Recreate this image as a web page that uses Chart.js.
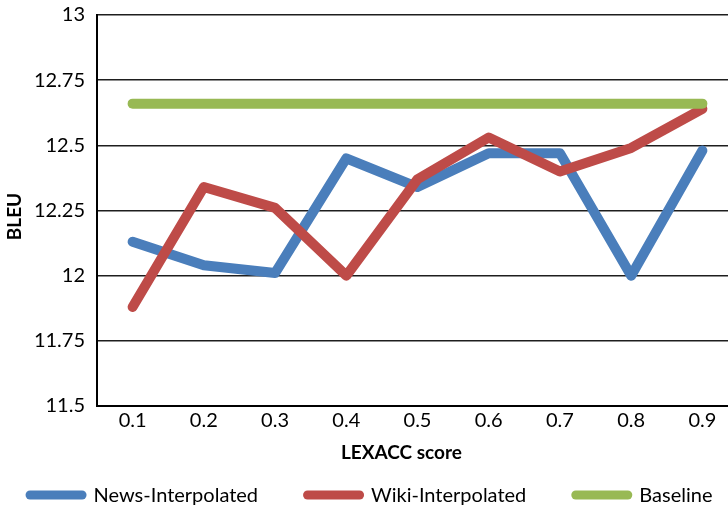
<!DOCTYPE html>
<html>
<head>
<meta charset="utf-8">
<script src="https://cdn.jsdelivr.net/npm/chart.js@4/dist/chart.umd.min.js"></script>
<style>
  html, body { margin: 0; padding: 0; background: #fff; overflow: hidden; }
  #wrap { width: 738px; height: 507px; }
</style>
</head>
<body>
<div id="wrap"><canvas id="chart" width="738" height="507"></canvas></div>
<script>
// LEXACC score thresholds on the x axis
const scores = ['0.1', '0.2', '0.3', '0.4', '0.5', '0.6', '0.7', '0.8', '0.9'];

// BLEU per threshold
const newsInterpolated = [12.13, 12.04, 12.01, 12.45, 12.34, 12.47, 12.47, 12.00, 12.48];
const wikiInterpolated = [11.88, 12.34, 12.26, 12.00, 12.37, 12.53, 12.40, 12.49, 12.64];
const baseline = [12.66, 12.66, 12.66, 12.66, 12.66, 12.66, 12.66, 12.66, 12.66];

// BLEU axis ticks
const bleuTicks = [11.5, 11.75, 12, 12.25, 12.5, 12.75, 13];

const FONT = 'Lato, Carlito, "Open Sans", sans-serif';

// Axis titles drawn at fixed offsets from the plot area
const axisTitles = {
  id: 'axisTitles',
  afterDraw(chart) {
    const { ctx, chartArea } = chart;
    ctx.save();
    ctx.fillStyle = '#000';
    ctx.font = 'bold 19px ' + FONT;
    ctx.textAlign = 'center';
    ctx.textBaseline = 'middle';
    ctx.fillText('LEXACC score', chartArea.left + chartArea.width * 0.475, chartArea.bottom + 47);
    ctx.translate(15, (chartArea.top + chartArea.bottom) / 2 + 6);
    ctx.rotate(-Math.PI / 2);
    ctx.fillText('BLEU', 0, 0);
    ctx.restore();
  }
};

// One-row legend: rounded line swatch, label, wide gaps between entries
const lineLegend = {
  id: 'lineLegend',
  afterDraw(chart, args, opts) {
    const { ctx } = chart;
    const sw = opts.swatchWidth, sh = opts.swatchHeight, gap = opts.textGap, spacing = opts.itemGap;
    ctx.save();
    ctx.font = opts.fontSize + 'px ' + FONT;
    ctx.textBaseline = 'middle';
    ctx.textAlign = 'left';
    const items = chart.data.datasets.map(ds => ({
      text: ds.label, color: ds.borderColor, w: ctx.measureText(ds.label).width
    }));
    const total = items.reduce((s, it) => s + sw + gap + it.w, 0) + spacing * (items.length - 1);
    let x = opts.centerX - total / 2;
    const y = opts.centerY;
    items.forEach(it => {
      ctx.fillStyle = it.color;
      ctx.beginPath();
      ctx.roundRect(x, y - sh / 2, sw, sh, sh / 2);
      ctx.fill();
      ctx.fillStyle = '#000';
      ctx.fillText(it.text, x + sw + gap, y + 1);
      x += sw + gap + it.w + spacing;
    });
    ctx.restore();
  }
};

const lineStyle = (color) => ({
  borderColor: color,
  backgroundColor: color,
  borderWidth: 10,
  borderCapStyle: 'round',
  borderJoinStyle: 'round',
  pointRadius: 0,
  pointHoverRadius: 0,
  fill: false,
  tension: 0
});

new Chart(document.getElementById('chart'), {
  type: 'line',
  data: {
    labels: scores,
    datasets: [
      Object.assign({ label: 'News-Interpolated', data: newsInterpolated, order: 3 }, lineStyle('#4A7EBB')),
      Object.assign({ label: 'Wiki-Interpolated', data: wikiInterpolated, order: 2 }, lineStyle('#BE4B48')),
      Object.assign({ label: 'Baseline', data: baseline, order: 1 }, lineStyle('#98B954'))
    ]
  },
  options: {
    responsive: false,
    animation: false,
    events: [],
    layout: { padding: { top: 15, right: 0, bottom: 67, left: 0 } },
    scales: {
      x: {
        offset: true,
        grid: { display: false, drawTicks: false, offset: true },
        border: { display: true, color: '#000', width: 2 },
        ticks: { color: '#000', font: { family: FONT, size: 20 }, padding: 3, maxRotation: 0 },
        afterFit(scale) { scale.height = 34; }
      },
      y: {
        min: 11.5,
        max: 13,
        afterBuildTicks(scale) { scale.ticks = bleuTicks.map(v => ({ value: v })); },
        grid: { color: '#1e1e1e', lineWidth: 1.6, drawTicks: false },
        border: { display: true, color: '#000', width: 2 },
        ticks: {
          color: '#000',
          font: { family: FONT, size: 20 },
          padding: 12,
          callback: (v) => String(v)
        },
        afterFit(scale) {
          scale.width = 97;
          scale.paddingTop = 0;
          scale.paddingBottom = 0;
        }
      }
    },
    plugins: {
      tooltip: { enabled: false },
      legend: { display: false },
      lineLegend: {
        swatchWidth: 61,
        swatchHeight: 9,
        textGap: 7,
        itemGap: 45,
        fontSize: 20,
        centerX: 369,
        centerY: 495
      }
    }
  },
  plugins: [axisTitles, lineLegend]
});
</script>
</body>
</html>
